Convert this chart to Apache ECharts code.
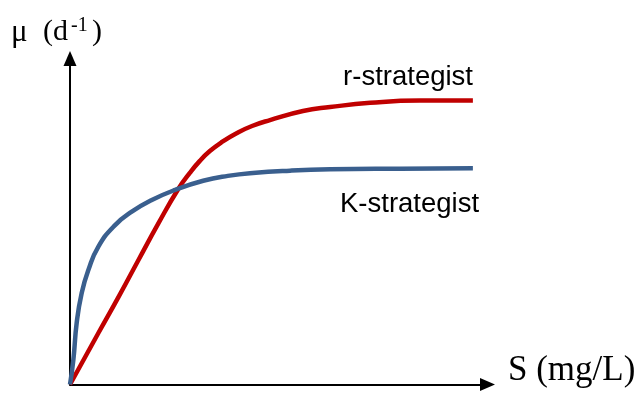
<!DOCTYPE html>
<html>
<head>
<meta charset="utf-8">
<script src="https://cdn.jsdelivr.net/npm/echarts@6/dist/echarts.min.js"></script>
<style>
  html, body { margin: 0; padding: 0; background: #fff; }
  #chart { width: 639px; height: 396px; }
</style>
</head>
<body>
<div id="chart"></div>
<script>
// Specific growth rate μ versus substrate concentration S for two strategies.
// K-strategist: high affinity, low maximum rate.
const kS  = [0, 0.08, 0.16, 0.28, 0.44, 0.68, 1.08, 1.48, 1.96, 2.52, 3.19, 3.78, 4.38, 5.27, 6.23, 7.9, 9.65];
const kMu = [0, 0.75, 1.89, 2.81, 3.51, 4.23, 4.89, 5.3, 5.66, 5.97, 6.25, 6.4, 6.49, 6.56, 6.6, 6.62, 6.63];
// r-strategist: low affinity, high maximum rate.
const rS  = [0, 0.68, 1.16, 1.64, 2.12, 2.59, 2.87, 3.11, 3.35, 3.64, 3.99, 4.36, 4.79, 5.58, 6.23, 7.19, 8.38, 9.65];
const rMu = [0, 1.58, 2.68, 3.82, 4.95, 5.99, 6.49, 6.86, 7.16, 7.44, 7.71, 7.93, 8.11, 8.39, 8.51, 8.64, 8.71, 8.71];

const seriesNames = ['r-strategist', 'K-strategist'];
const xAxisTitle = 'S (mg/L)';
// y-axis title pieces: symbol, unit, exponent, closing bracket
const yTitleParts = ['μ', '(d', '-1', ')'];

const pairs = (xs, ys) => xs.map((x, i) => [x, ys[i]]);

const chart = echarts.init(document.getElementById('chart'), null, { renderer: 'canvas' });

const axisCommon = {
  type: 'value',
  min: 0,
  max: 10,
  axisLine: {
    show: true,
    symbol: ['none', 'triangle'],
    symbolSize: [13, 15],
    lineStyle: { color: '#000', width: 2 }
  },
  axisTick: { show: false },
  axisLabel: { show: false },
  splitLine: { show: false }
};

const sans = '"Liberation Sans", Arial, sans-serif';
const serif = '"Liberation Serif", "Times New Roman", serif';

function label(text, x, y, font, align) {
  return {
    type: 'text', x: x, y: y,
    style: { text: text, font: font, fill: '#000', align: align || 'left', verticalAlign: 'top' }
  };
}

chart.setOption({
  animation: false,
  backgroundColor: '#fff',
  grid: { left: 70, right: 151.5, top: 58.5, bottom: 11.5 },
  xAxis: Object.assign({}, axisCommon),
  yAxis: Object.assign({}, axisCommon),
  series: [
    {
      name: seriesNames[0],
      type: 'line',
      data: pairs(rS, rMu),
      smooth: 0.5,
      showSymbol: false,
      lineStyle: { color: '#C00000', width: 4.5 },
      z: 3
    },
    {
      name: seriesNames[1],
      type: 'line',
      data: pairs(kS, kMu),
      smooth: 0.5,
      showSymbol: false,
      lineStyle: { color: '#3A5F8E', width: 4.5 },
      z: 4
    }
  ],
  graphic: [
    label(seriesNames[0], 473, 63, '27.5px ' + sans, 'right'),
    label(seriesNames[1], 340, 190, '27.5px ' + sans),
    label(xAxisTitle, 508, 353, '35px ' + serif),
    label(yTitleParts[0], 11, 17, '31px ' + serif),
    label(yTitleParts[1], 43, 17, '30px ' + serif),
    label(yTitleParts[2], 71, 16, '20px ' + serif),
    label(yTitleParts[3], 92, 17, '30px ' + serif)
  ]
});
</script>
</body>
</html>
